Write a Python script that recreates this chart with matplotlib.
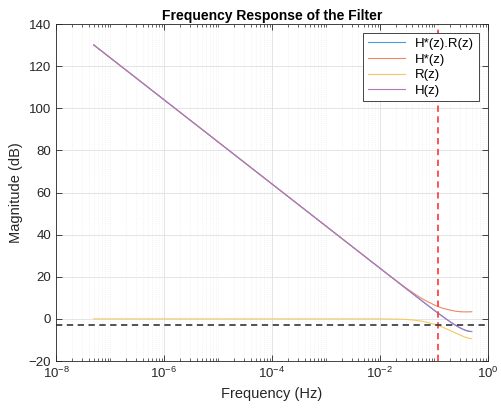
import numpy as np
import matplotlib
matplotlib.use("Agg")
import matplotlib.pyplot as plt
from matplotlib.ticker import LogLocator, NullFormatter

plt.rcParams['font.family'] = ['Liberation Sans', 'DejaVu Sans']
plt.rcParams['mathtext.default'] = 'regular'

# normalised frequency points
freq = [5e-8, 1e-7, 1e-6, 1e-5, 1e-4, 1e-3, 0.005, 0.01, 0.02, 0.03, 0.04,
        0.05, 0.06, 0.07, 0.08, 0.1, 0.12, 0.15, 0.2, 0.25, 0.3, 0.35, 0.4,
        0.45, 0.5]

# H(z) magnitude in dB
h_db = [130.06, 124.04, 104.04, 84.04, 64.04, 44.04, 30.06, 24.04, 18.02,
        14.51, 12.02, 10.09, 8.53, 7.21, 6.07, 4.18, 2.66, 0.84, -1.41,
        -3.01, -4.18, -5.02, -5.59, -5.91, -6.02]

# H*(z).R(z) magnitude in dB (lies under H(z))
hr_db = [130.06, 124.04, 104.04, 84.04, 64.04, 44.04, 30.06, 24.04, 18.02,
         14.51, 12.02, 10.09, 8.53, 7.21, 6.07, 4.18, 2.66, 0.84, -1.41,
         -3.01, -4.18, -5.02, -5.59, -5.91, -6.02]

# H*(z) magnitude in dB
hstar_db = [130.06, 124.04, 104.04, 84.04, 64.04, 44.04, 30.06, 24.04, 18.12,
            14.76, 12.57, 10.89, 9.63, 8.71, 7.92, 6.68, 5.76, 4.94, 4.19,
            3.65, 3.42, 3.33, 3.32, 3.35, 3.4]

# R(z) magnitude in dB
r_db = [0, 0, 0, 0, 0, 0, 0, -0.02, -0.1, -0.25, -0.55, -0.8, -1.1, -1.5,
        -1.85, -2.5, -3.1, -4.1, -5.6, -6.66, -7.6, -8.35, -8.91, -9.26, -9.42]

f_cut = 0.118
level_3db = -3

fig = plt.figure(figsize=(5.01, 4.16), dpi=100)
ax = fig.add_axes([0.1118, 0.1322, 0.8622, 0.8101])

ax.semilogx(freq, hr_db, color='#4f9ad3', lw=0.8, label='H*(z).R(z)')
ax.semilogx(freq, hstar_db, color='#ea8a62', lw=0.8, label='H*(z)')
ax.semilogx(freq, r_db, color='#f5c863', lw=0.8, label='R(z)')
ax.semilogx(freq, h_db, color='#ac78c0', lw=0.8, label='H(z)')

ax.axvline(f_cut, color='#ff4545', ls=(0, (3.5, 2.5)), lw=1.3)
ax.axhline(level_3db, color='#444444', ls=(0, (3.5, 2.5)), lw=1.3)

ax.set_xlim(1e-8, 1)
ax.set_ylim(-20, 140)
ax.set_xticks([1e-8, 1e-6, 1e-4, 1e-2, 1])
ax.xaxis.set_minor_locator(LogLocator(base=10, subs=np.arange(1, 10), numticks=50))
ax.xaxis.set_minor_formatter(NullFormatter())
ax.set_yticks(range(-20, 141, 20))

ax.grid(True, which='major', color='#e0e0e0', lw=0.6)
ax.grid(True, which='minor', axis='x', color='#e8e8e8', lw=0.5, ls=(0, (1, 2)))
ax.set_axisbelow(True)

ax.tick_params(which='both', direction='in', top=True, right=True,
               colors='#262626', labelsize=9.5)
ax.tick_params(which='major', length=4, width=0.6)
ax.tick_params(which='minor', length=2.5, width=0.5)
for s in ax.spines.values():
    s.set_color('#262626')
    s.set_linewidth(0.6)

ax.set_xlabel('Frequency (Hz)', fontsize=10.5, color='#262626')
ax.set_ylabel('Magnitude (dB)', fontsize=10.5, color='#262626')
ax.set_title('Frequency Response of the Filter', fontsize=10, fontweight='bold', pad=3)

leg = ax.legend(loc='upper right', fontsize=9.5, fancybox=False, framealpha=1,
                edgecolor='#262626', borderaxespad=0.7, handlelength=2.8,
                labelspacing=0.25, borderpad=0.35, handletextpad=0.8)
leg.get_frame().set_linewidth(0.6)

fig.savefig('out.png', dpi=100)
